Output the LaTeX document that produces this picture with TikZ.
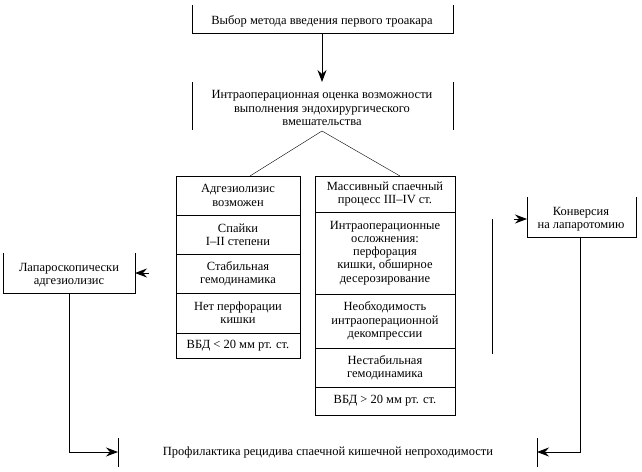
\documentclass[tikz,border=0pt]{standalone}
\usepackage{fontspec}
\setmainfont{Liberation Serif}
\usetikzlibrary{arrows.meta}
\begin{document}
\begin{tikzpicture}[x=1pt,y=-1pt, line width=0.9pt,
  txt/.style={font=\fontsize{12.5}{13.2}\selectfont, align=center, inner sep=0pt},
  arr/.style={-{Stealth[length=12pt,width=9pt,inset=4pt]}},
  thinline/.style={line width=0.4pt}]
\useasboundingbox[fill=white] (0,0) rectangle (642,471);

% top box
\draw (192,5) -- (192,33) -- (453,33) -- (453,5);
\node[txt] (choice) at (322,21) {Выбор метода введения первого троакара};
\coordinate (choiceB) at (322,33);

% second box
\draw (192,82) -- (192,130);
\draw (453,82) -- (453,130);
\node[txt] (eval) at (322,108) {Интраоперационная оценка возможности\\выполнения эндохирургического\\вмешательства};
\coordinate (evalT) at (322,82);
\coordinate (evalB) at (322,131);
\draw[arr] (choiceB) -- (evalT);

% left column
\draw (176,176) rectangle (300,358);
\foreach \y in {215,254,293,333} \draw (176,\y) -- (300,\y);
\coordinate (leftT) at (250,176);
\node[txt] (l1) at (238,195.5) {Адгезиолизис\\возможен};
\node[txt] (l2) at (238,234.5) {Спайки\\I–II степени};
\node[txt] (l3) at (238,273.5) {Стабильная\\гемодинамика};
\node[txt] (l4) at (238,313) {Нет перфорации\\кишки};
\node[txt] (l5) at (238,345.5) {ВБД < 20 мм рт. ст.};

% right column
\draw (315,176) rectangle (455,415);
\foreach \y in {212,294,348,387} \draw (315,\y) -- (455,\y);
\coordinate (rightT) at (400,176);
\node[txt] (r1) at (385,194) {Массивный спаечный\\процесс III–IV ст.};
\node[txt] (r2) at (385,253) {Интраоперационные\\осложнения:\\перфорация\\кишки, обширное\\десерозирование};
\node[txt] (r3) at (385,321) {Необходимость\\интраоперационной\\декомпрессии};
\node[txt] (r4) at (385,367.5) {Нестабильная\\гемодинамика};
\node[txt] (r5) at (385,401) {ВБД > 20 мм рт. ст.};

\draw[thinline] (leftT) -- (evalB) -- (rightT);

% laparoscopic box
\draw (3,253) -- (3,293) -- (135,293) -- (135,253);
\node[txt] (lap) at (69,275) {Лапароскопически\\адгезиолизис};
\coordinate (lapR) at (135,273);
\coordinate (lapArrS) at (149,273);
\draw[arr] (lapArrS) -- (lapR);
\coordinate (lapB) at (69,293);

% conversion box
\draw (527,197) -- (527,237) -- (636,237) -- (636,197);
\node[txt] (conv) at (581,219) {Конверсия\\на лапаротомию};
\coordinate (convL) at (527,219);
\coordinate (convArrS) at (514,219);
\draw[arr] (convArrS) -- (convL);
\coordinate (convB) at (580,237);
\coordinate (vt) at (492,219);
\coordinate (vb) at (492,354);
\draw (vt) -- (vb);

% bottom
\draw (118,438) -- (118,467);
\draw (537,438) -- (537,467);
\node[txt] (prof) at (328,452) {Профилактика рецидива спаечной кишечной непроходимости};
\coordinate (profL) at (118,452);
\coordinate (profR) at (537,452);
\draw[arr] (lapB) |- (profL);
\draw[arr] (convB) |- (profR);
\end{tikzpicture}
\end{document}
